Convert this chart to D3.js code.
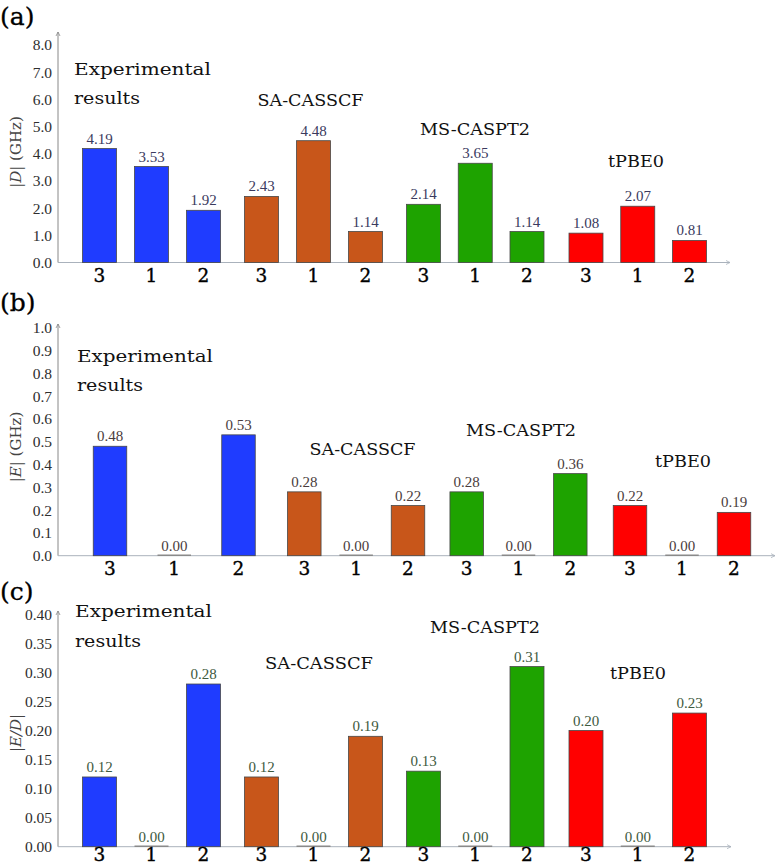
<!DOCTYPE html>
<html><head><meta charset="utf-8">
<script src="https://cdn.jsdelivr.net/npm/d3@7"></script>
<style>body{margin:0;background:#fff}svg{display:block}</style>
</head><body>
<script>
// ---------- DATA ----------
const categories = ["3", "1", "2"];
const methods = ["Experimental results", "SA-CASSCF", "MS-CASPT2", "tPBE0"];
const dValues  = [[4.19, 3.53, 1.92], [2.43, 4.48, 1.14], [2.14, 3.65, 1.14], [1.08, 2.07, 0.81]];
const eValues  = [[0.48, 0.00, 0.53], [0.28, 0.00, 0.22], [0.28, 0.00, 0.36], [0.22, 0.00, 0.19]];
const edValues = [[0.12, 0.00, 0.28], [0.12, 0.00, 0.19], [0.13, 0.00, 0.31], [0.20, 0.00, 0.23]];
const dTicks  = [0, 1, 2, 3, 4, 5, 6, 7, 8];
const eTicks  = [0, 0.1, 0.2, 0.3, 0.4, 0.5, 0.6, 0.7, 0.8, 0.9, 1.0];
const edTicks = [0, 0.05, 0.10, 0.15, 0.20, 0.25, 0.30, 0.35, 0.40];

// ---------- STYLE / LAYOUT ----------
const groupColors = ["#1f3cff", "#c8561a", "#1ea300", "#ff0000"];
const W = 776, H = 865, axisX = 58;
const serif = "'Liberation Serif', 'Times New Roman', serif";
const serif2 = "'DejaVu Serif', serif";

const svg = d3.select("body").append("svg").attr("width", W).attr("height", H);

const slotsDomain = [0, 2, 3, 5, 6, 8, 9, 11];
const centersAC = [99.5, 203.5, 261.5, 365.5, 423.5, 527, 586, 689.5];
const centersB  = [110, 238.5, 304.3, 408, 466.7, 570.3, 630, 734];

const panels = [
  { letter: "(a)", letterY: 25, values: dValues, ticks: dTicks, fmt: ".1f", yMax: 8, y0: 262.5, yTop: 45,
    axisTop: 32, axisRight: 730, centers: centersAC, bw: 34, labelColor: "#3a3a5e", catOff: 19,
    ytitle: ["|", "D", "| (GHz)"], ytitleY: 152,
    titles: [
      { t: "Experimental", x: 74, y: 75, w: 137, anchor: "start" },
      { t: "results", x: 74, y: 104, w: 66, anchor: "start" },
      { t: methods[1], x: 310.5, y: 106, w: 106, anchor: "middle" },
      { t: methods[2], x: 475, y: 135, w: 110, anchor: "middle" },
      { t: methods[3], x: 636, y: 166.7, w: 56, anchor: "middle" } ] },
  { letter: "(b)", letterY: 311, values: eValues, ticks: eTicks, fmt: ".1f", yMax: 1, y0: 555.7, yTop: 327.7,
    axisTop: 324, axisRight: 775, centers: centersB, bw: 33.5, labelColor: "#4a3c3c", catOff: 19,
    ytitle: ["|", "E", "| (GHz)"], ytitleY: 447,
    titles: [
      { t: "Experimental", x: 77, y: 362.3, w: 136, anchor: "start" },
      { t: "results", x: 77, y: 391, w: 66, anchor: "start" },
      { t: methods[1], x: 362.5, y: 455, w: 106, anchor: "middle" },
      { t: methods[2], x: 521, y: 436, w: 110, anchor: "middle" },
      { t: methods[3], x: 683, y: 467.3, w: 56, anchor: "middle" } ] },
  { letter: "(c)", letterY: 600, values: edValues, ticks: edTicks, fmt: ".2f", yMax: 0.4, y0: 846.7, yTop: 614.3,
    axisTop: 611, axisRight: 731, centers: centersAC, bw: 34, labelColor: "#3e5a3e", catOff: 14.5,
    ytitle: ["|", "E/D", "|"], ytitleY: 733,
    titles: [
      { t: "Experimental", x: 75, y: 616.7, w: 137, anchor: "start" },
      { t: "results", x: 75, y: 646.7, w: 66, anchor: "start" },
      { t: methods[1], x: 319, y: 669.3, w: 108, anchor: "middle" },
      { t: methods[2], x: 485, y: 632.7, w: 110, anchor: "middle" },
      { t: methods[3], x: 638, y: 679, w: 56, anchor: "middle" } ] }
];

panels.forEach(p => {
  const y = d3.scaleLinear().domain([0, p.yMax]).range([p.y0, p.yTop]);
  const x = d3.scaleLinear().domain(slotsDomain).range(p.centers);
  const g = svg.append("g");

  // panel letter
  g.append("text").attr("x", 0).attr("y", p.letterY).attr("font-family", serif2)
    .attr("font-size", 25).attr("fill", "#000").attr("stroke", "#000").attr("stroke-width", 0.3).text(p.letter);

  // y axis ticks
  const ax = g.append("g").attr("transform", `translate(${axisX},0)`)
    .call(d3.axisLeft(y).tickValues(p.ticks).tickFormat(d3.format(p.fmt)).tickSize(0).tickPadding(6));
  ax.select(".domain").remove();
  ax.selectAll("text").attr("font-family", serif).attr("font-size", 15.5).attr("fill", "#2e2e2e");

  // axis lines
  g.append("line").attr("x1", axisX).attr("x2", axisX).attr("y1", y(0)).attr("y2", p.axisTop)
    .attr("stroke", "#888").attr("stroke-width", 1);
  g.append("path").attr("d", `M${axisX-2},${p.axisTop+4}L${axisX},${p.axisTop}L${axisX+2},${p.axisTop+4}`)
    .attr("fill", "none").attr("stroke", "#888").attr("stroke-width", 0.8);
  g.append("line").attr("x1", axisX).attr("x2", p.axisRight).attr("y1", y(0)).attr("y2", y(0))
    .attr("stroke", "#aab2bc").attr("stroke-width", 1);
  g.append("path").attr("d", `M${p.axisRight-4},${y(0)-2}L${p.axisRight},${y(0)}L${p.axisRight-4},${y(0)+2}`)
    .attr("fill", "none").attr("stroke", "#aab2bc").attr("stroke-width", 0.8);

  // y title
  const yt = g.append("text").attr("transform", `translate(21,${p.ytitleY}) rotate(-90)`)
    .attr("text-anchor", "middle").attr("font-family", serif2).attr("font-size", 15).attr("fill", "#444")
    .attr("xml:space", "preserve");
  yt.append("tspan").text(p.ytitle[0]);
  yt.append("tspan").attr("font-style", "italic").text(p.ytitle[1]);
  yt.append("tspan").text(p.ytitle[2]);

  const rows = p.values.flatMap((grp, j) => grp.map((v, i) => ({ j, i, slot: j * 3 + i, v, cat: categories[i] })));

  // bars
  g.selectAll("rect.bar").data(rows.filter(d => d.v > 0)).join("rect").attr("class", "bar")
    .attr("x", d => x(d.slot) - p.bw / 2).attr("width", p.bw)
    .attr("y", d => y(d.v)).attr("height", d => y(0) - y(d.v))
    .attr("fill", d => groupColors[d.j]).attr("stroke", "#474747").attr("stroke-width", 0.8);
  g.selectAll("line.zero").data(rows.filter(d => d.v === 0)).join("line").attr("class", "zero")
    .attr("x1", d => x(d.slot) - p.bw / 2).attr("x2", d => x(d.slot) + p.bw / 2)
    .attr("y1", y(0) - 0.5).attr("y2", y(0) - 0.5).attr("stroke", "#8a8a8a").attr("stroke-width", 1.5);

  // value labels
  g.selectAll("text.val").data(rows).join("text").attr("class", "val")
    .attr("x", d => x(d.slot)).attr("y", d => y(d.v) - 5).attr("text-anchor", "middle")
    .attr("font-family", serif).attr("font-size", 15).attr("fill", p.labelColor)
    .text(d => d3.format(".2f")(d.v));

  // category labels
  g.selectAll("text.cat").data(rows).join("text").attr("class", "cat")
    .attr("x", d => x(d.slot)).attr("y", y(0) + p.catOff).attr("text-anchor", "middle")
    .attr("font-family", serif2).attr("font-size", 18.5).attr("fill", "#000")
    .attr("stroke", "#000").attr("stroke-width", 0.35)
    .text(d => d.cat);

  // method titles
  p.titles.forEach(t => {
    g.append("text").attr("x", t.x).attr("y", t.y).attr("text-anchor", t.anchor)
      .attr("font-family", serif2).attr("font-size", 17.5).attr("fill", "#111")
      .attr("textLength", t.w).attr("lengthAdjust", "spacingAndGlyphs").text(t.t);
  });
});
</script>
</body></html>
